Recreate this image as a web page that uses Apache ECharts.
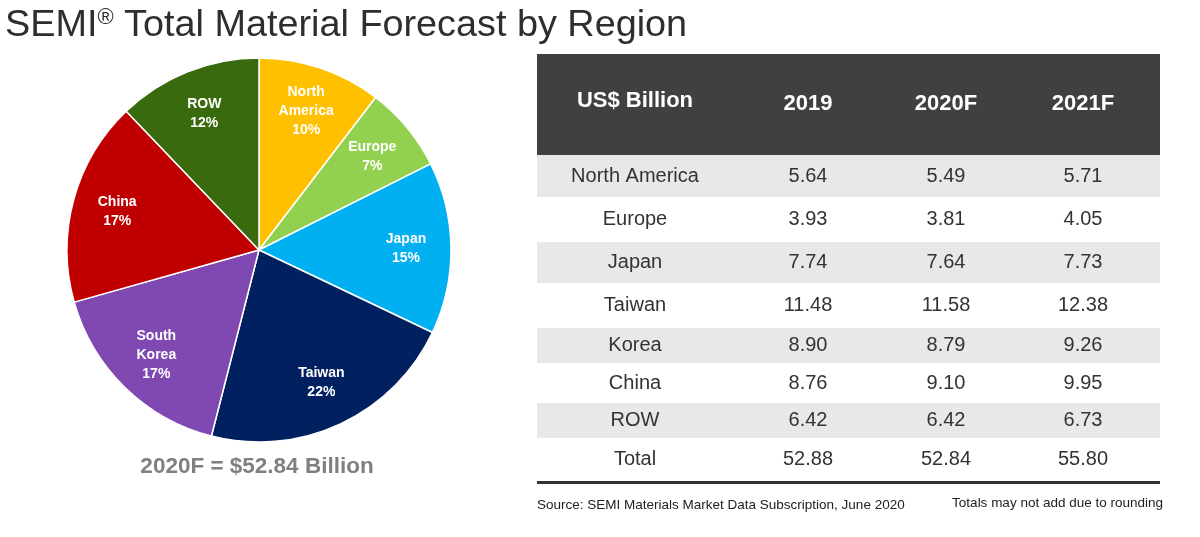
<!DOCTYPE html>
<html>
<head>
<meta charset="utf-8">
<script src="https://cdn.jsdelivr.net/npm/echarts@6/dist/echarts.min.js"></script>
<style>
html,body{margin:0;padding:0;background:#fff;}
#chart{width:1200px;height:537px;}
</style>
</head>
<body>
<div id="chart"></div>
<script>
// ---- data ----
const pieNames = ['North\nAmerica', 'Europe', 'Japan', 'Taiwan', 'South\nKorea', 'China', 'ROW'];
const pieValues2020F = [5.49, 3.81, 7.64, 11.58, 8.79, 9.10, 6.42];
const piePctLabels = ['10%', '7%', '15%', '22%', '17%', '17%', '12%'];
const pieColors = ['#FFC000', '#92D050', '#00B0F0', '#002060', '#8049B2', '#C00000', '#3A6A0E'];

const tableHeader = ['US$ Billion', '2019', '2020F', '2021F'];
const tableRegions = ['North America', 'Europe', 'Japan', 'Taiwan', 'Korea', 'China', 'ROW', 'Total'];
const values2019 = [5.64, 3.93, 7.74, 11.48, 8.90, 8.76, 6.42, 52.88];
const values2020F = [5.49, 3.81, 7.64, 11.58, 8.79, 9.10, 6.42, 52.84];
const values2021F = [5.71, 4.05, 7.73, 12.38, 9.26, 9.95, 6.73, 55.80];

const titleText = 'Total Material Forecast by Region';
const totalCaption = '2020F = $52.84 Billion';
const sourceNote = 'Source: SEMI Materials Market Data Subscription, June 2020';
const roundingNote = 'Totals may not add due to rounding';

// ---- layout (not data) ----
const FONT = 'Arial, "Liberation Sans", sans-serif';
const tableLeft = 537, tableRight = 1160, headTop = 54, headBottom = 155;
const rowBounds = [155, 197, 242, 283, 328, 363, 403, 438, 480];
const colCenters = [635, 808, 946, 1083];

const pieData = pieNames.map((n, i) => ({
  name: n, value: pieValues2020F[i], pct: piePctLabels[i],
  itemStyle: { color: pieColors[i] }
}));

const graphics = [];
graphics.push({ type: 'rect', shape: { x: tableLeft, y: headTop, width: tableRight - tableLeft, height: headBottom - headTop }, style: { fill: '#404040' } });
tableHeader.forEach((h, c) => {
  graphics.push({ type: 'text', x: colCenters[c], y: c === 0 ? 101 : 104,
    style: { text: h, fill: '#ffffff', font: 'bold 22px ' + FONT, textAlign: 'center', textVerticalAlign: 'middle' } });
});
const cols = [tableRegions, values2019.map(v => v.toFixed(2)), values2020F.map(v => v.toFixed(2)), values2021F.map(v => v.toFixed(2))];
tableRegions.forEach((r, i) => {
  const y0 = rowBounds[i], y1 = rowBounds[i + 1];
  if (i % 2 === 0 && i < tableRegions.length - 1) {
    graphics.push({ type: 'rect', shape: { x: tableLeft, y: y0, width: tableRight - tableLeft, height: y1 - y0 }, style: { fill: '#E8E8E8' } });
  }
  cols.forEach((col, c) => {
    graphics.push({ type: 'text', x: colCenters[c], y: (y0 + y1) / 2,
      style: { text: col[i], fill: '#333333', font: '20px ' + FONT, textAlign: 'center', textVerticalAlign: 'middle' } });
  });
});
graphics.push({ type: 'rect', shape: { x: tableLeft, y: 481, width: tableRight - tableLeft, height: 3 }, style: { fill: '#333333' } });
graphics.push({ type: 'text', x: 537, y: 505, style: { text: sourceNote, fill: '#222', font: '13.5px ' + FONT, textAlign: 'left', textVerticalAlign: 'middle' } });
graphics.push({ type: 'text', x: 1163, y: 503, style: { text: roundingNote, fill: '#222', font: '13.5px ' + FONT, textAlign: 'right', textVerticalAlign: 'middle' } });
graphics.push({ type: 'text', x: 257, y: 467, style: { text: totalCaption, fill: '#808080', font: 'bold 22.5px ' + FONT, textAlign: 'center', textVerticalAlign: 'middle' } });

const chart = echarts.init(document.getElementById('chart'), null, { renderer: 'canvas' });
chart.setOption({
  backgroundColor: '#ffffff',
  animation: false,
  title: {
    text: 'SEMI{sup|®} ' + titleText,
    left: 0, top: 2,
    textStyle: {
      fontFamily: FONT, fontSize: 37.8, fontWeight: 'normal', color: '#2e2e2e',
      rich: { sup: { fontFamily: FONT, fontSize: 22, color: '#2e2e2e', verticalAlign: 'top', padding: [0, 0, 16, 0] } }
    }
  },
  series: [
    {
      type: 'pie', center: [259, 250], radius: [0, 192], startAngle: 90, clockwise: true,
      silent: true,
      label: { show: false }, labelLine: { show: false },
      itemStyle: { borderColor: '#ffffff', borderWidth: 1.5 },
      data: pieData
    },
    {
      type: 'pie', center: [259, 250], radius: [96, 192], startAngle: 90, clockwise: true,
      silent: true,
      itemStyle: { color: 'rgba(0,0,0,0)', borderWidth: 0 },
      label: {
        show: true, position: 'inside', color: '#ffffff', fontFamily: FONT,
        fontWeight: 'bold', fontSize: 14, lineHeight: 19,
        formatter: p => p.name + '\n' + p.data.pct
      },
      labelLine: { show: false },
      data: pieData.map(d => ({ name: d.name, value: d.value, pct: d.pct }))
    }
  ],
  graphic: graphics
});
</script>
</body>
</html>
